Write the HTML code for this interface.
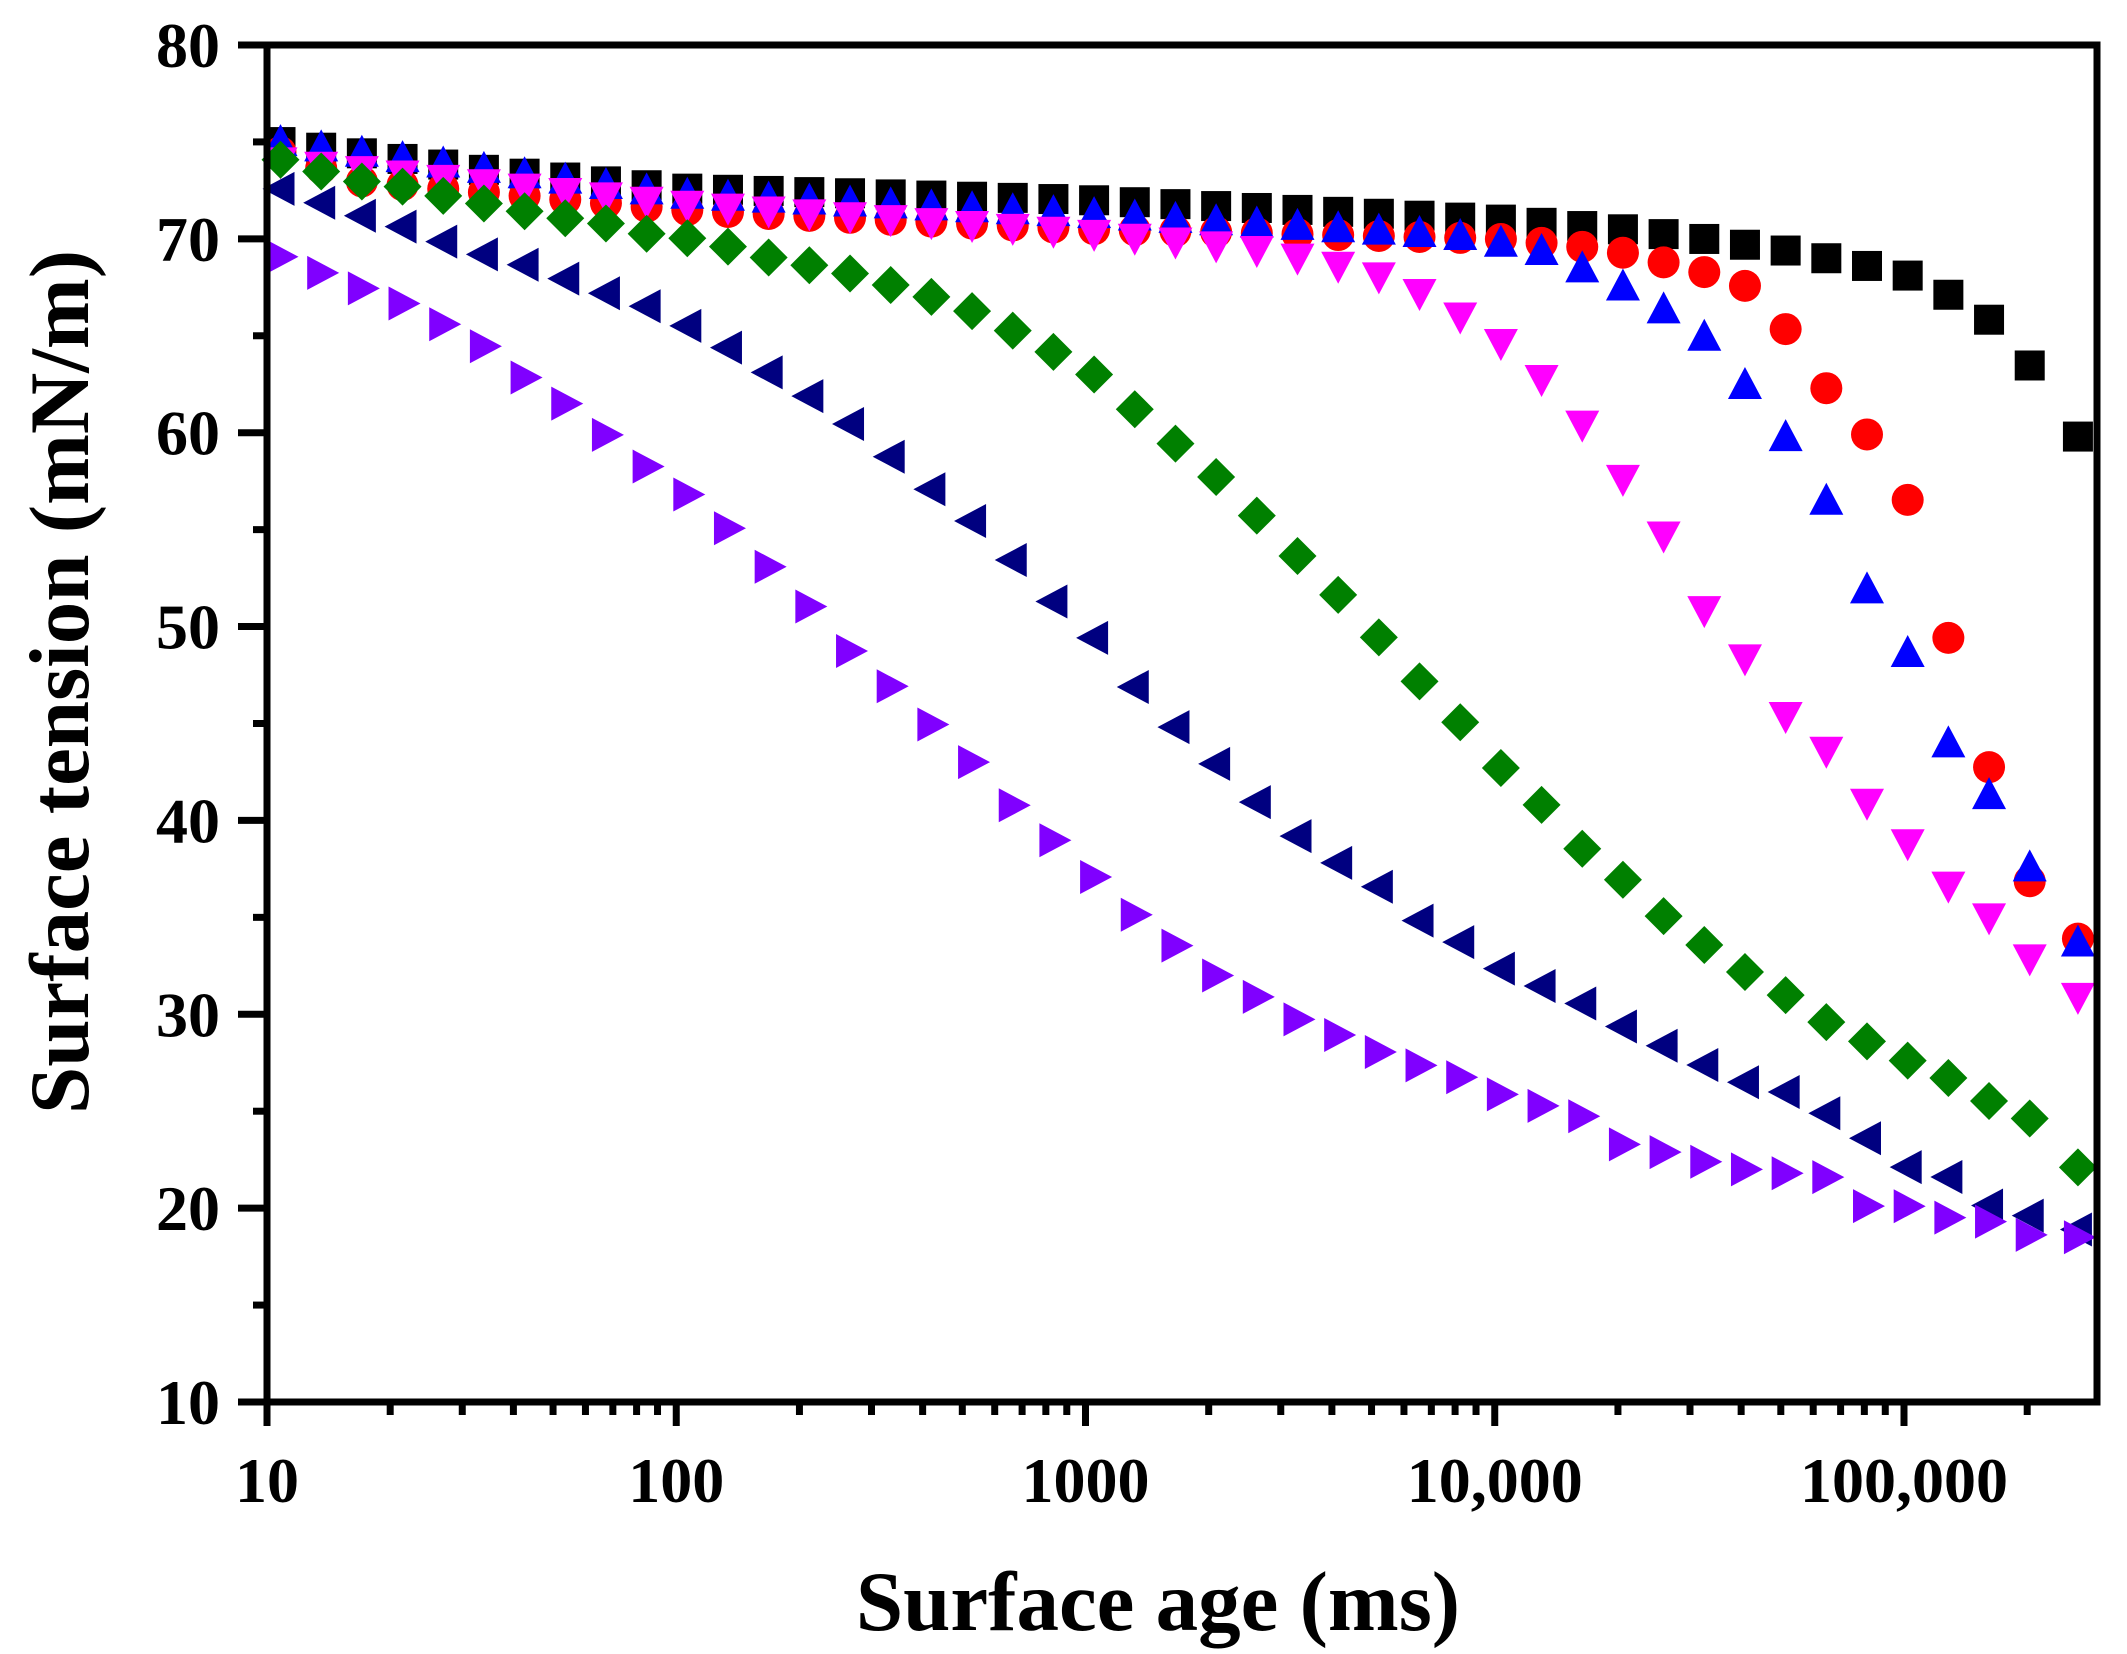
<!DOCTYPE html>
<html><head><meta charset="utf-8"><style>
html,body{margin:0;padding:0;background:#fff;}
svg{display:block;}
text{font-family:"Liberation Serif",serif;font-weight:bold;fill:#000;}
</style></head><body>
<svg id="s" width="2127" height="1654" xmlns="http://www.w3.org/2000/svg"></svg>
<script>
const NS="http://www.w3.org/2000/svg";
const s=document.getElementById('s');
function el(t,a,txt){const e=document.createElementNS(NS,t);for(const k in a)e.setAttribute(k,a[k]);if(txt!==undefined)e.textContent=txt;s.appendChild(e);return e;}
const L=267,R=2097,T=45,B=1402,DEC=409.25;
const X=lx=>L+(lx-1)*DEC, Y=v=>B-(v-10)*19.386;
function interp(an,x){for(let i=0;i<an.length-1;i++){if(x<=an[i+1][0]){const [a,va]=an[i],[b,vb]=an[i+1];return va+(vb-va)*(x-a)/(b-a);}}return an[an.length-1][1];}
const series=[
 {c:"#000000",m:"sq",a:[[1.03,75],[1.5,73.6],[2,72.6],[3,72],[4,71],[4.3,70.5],[4.5,70],[4.7,69.4],[4.8,69],[4.9,68.6],[5,68.1],[5.1,67.1],[5.2,65.8],[5.3,63.4],[5.415,59.8]]},
 {c:"#ff0000",m:"ci",a:[[1.03,74.5],[1.2,73],[2,71.5],[3,70.5],[4,70],[4.2,69.6],[4.3,69.3],[4.4,68.8],[4.5,68.3],[4.6,67.6],[4.65,66.7],[4.71,65.1],[4.8,62.3],[4.9,59.9],[5,56.5],[5.1,49.3],[5.2,42.6],[5.3,36.7],[5.415,33.9]]},
 {c:"#0000ff",m:"up",fixed:1,a:[[1.03,75],[2,72.3],[3,71.3],[3.9,70.2],[4.1,69.5],[4.2,68.6],[4.3,67.7],[4.41,66.4],[4.51,65],[4.61,62.5],[4.71,59.8],[4.81,56.5],[4.91,51.9],[5.01,48.6],[5.11,43.9],[5.2,41.6],[5.32,37.1],[5.425,33.7]]},
 {c:"#ff00ff",m:"dn",fixed:1,a:[[1.03,74],[2,71.8],[3,70.3],[3.4,69.5],[3.6,68.7],[3.7,68.2],[3.8,67.4],[3.9,66.2],[4.0,64.9],[4.1,63.1],[4.2,60.8],[4.3,58],[4.41,54.8],[4.51,50.9],[4.61,48.4],[4.71,45.4],[4.81,43.6],[4.91,40.9],[5.01,38.8],[5.11,36.6],[5.22,34.8],[5.32,32.6],[5.425,30.9]]},
 {c:"#008000",m:"di",a:[[1.03,74.1],[1.2,73],[1.3,72.8],[1.4,72.3],[1.5,71.9],[1.6,71.5],[1.7,71.1],[1.8,70.9],[1.9,70.3],[2,70.1],[2.1,69.7],[2.2,69.1],[2.3,68.7],[2.4,68.3],[2.5,67.7],[2.6,67.1],[2.7,66.4],[2.8,65.4],[2.9,64.3],[3,63.2],[3.1,61.4],[3.2,59.6],[3.3,57.9],[3.4,55.9],[3.5,53.8],[3.6,51.8],[3.7,49.6],[3.8,47.3],[3.9,45.2],[4,42.8],[4.1,40.9],[4.2,38.6],[4.3,37],[4.4,35.1],[4.5,33.6],[4.6,32.2],[4.7,31],[4.8,29.6],[4.9,28.6],[5,27.6],[5.1,26.7],[5.2,25.5],[5.3,24.6],[5.415,22.1]]},
 {c:"#000080",m:"lt",a:[[1.03,72.6],[1.2,71.3],[1.3,70.8],[1.4,70],[1.5,69.3],[1.6,68.8],[1.7,68.1],[1.8,67.3],[1.9,66.7],[2,65.7],[2.1,64.6],[2.2,63.3],[2.3,62.1],[2.4,60.7],[2.5,59],[2.6,57.3],[2.7,55.7],[2.8,53.7],[2.9,51.5],[3,49.7],[3.1,47.1],[3.2,45],[3.3,43.1],[3.4,41.1],[3.5,39.3],[3.6,37.9],[3.7,36.7],[3.8,34.9],[3.9,33.8],[4,32.4],[4.1,31.5],[4.2,30.6],[4.3,29.4],[4.4,28.4],[4.5,27.4],[4.6,26.5],[4.7,26],[4.8,24.9],[4.9,23.6],[5,22.1],[5.1,21.6],[5.2,20.1],[5.3,19.6],[5.415,18.9]]},
 {c:"#8000ff",m:"rt",a:[[1.03,69.1],[1.2,67.6],[1.3,66.9],[1.4,65.8],[1.5,64.8],[1.6,63.1],[1.7,61.8],[1.8,60.2],[1.9,58.5],[2,57.1],[2.1,55.4],[2.2,53.4],[2.3,51.4],[2.4,49],[2.5,47.2],[2.6,45.2],[2.7,43.3],[2.8,41],[2.9,39.2],[3,37.3],[3.1,35.3],[3.2,33.7],[3.3,32.1],[3.4,31],[3.5,29.8],[3.6,29],[3.7,28.1],[3.8,27.4],[3.9,26.8],[4,25.9],[4.1,25.3],[4.2,24.8],[4.3,23.3],[4.4,22.9],[4.5,22.4],[4.6,22],[4.7,21.8],[4.8,21.6],[4.9,20.1],[5,20.1],[5.1,19.5],[5.2,19.3],[5.3,18.6],[5.415,18.5]]}
];
for(const sr of series){if(sr.fixed)continue;for(let i=1;i<sr.a.length;i++)sr.a[i][0]+=0.01;}
const h=16;
function marker(m,x,y,c){
 let p;
 if(m=="sq"){el('rect',{x:x-h+1,y:y-h+1,width:2*h-2,height:2*h-2,fill:c});return;}
 if(m=="ci"){el('circle',{cx:x,cy:y,r:h,fill:c});return;}
 if(m=="up")p=[[x,y-h-2],[x+h+1,y+h-2],[x-h-1,y+h-2]];
 if(m=="dn")p=[[x,y+h+2],[x+h+1,y-h+2],[x-h-1,y-h+2]];
 if(m=="lt")p=[[x-h-2,y],[x+h-2,y-h-1],[x+h-2,y+h+1]];
 if(m=="rt")p=[[x+h+2,y],[x-h+2,y-h-1],[x-h+2,y+h+1]];
 if(m=="di")p=[[x,y-h-3],[x+h+3,y],[x,y+h+3],[x-h-3,y]];
 el('polygon',{points:p.map(q=>q.join(',')).join(' '),fill:c});
}
for(const sr of series){
 for(let k=0;k<=44;k++){let lx=(k==44)?5.425:1.033+0.0994*k;marker(sr.m,X(lx),Y(interp(sr.a,lx)),sr.c);}
}
el('rect',{x:L,y:T,width:R-L,height:B-T,fill:"none",stroke:"#000","stroke-width":7});
for(let d=1;d<=5;d++){
 for(let m=1;m<10;m++){const lx=d+Math.log10(m);const x=X(lx);if(x>R)break;
  el('line',{x1:x,y1:B,x2:x,y2:B+(m==1?24:13),stroke:"#000","stroke-width":7});}
}
const xl=[["10",1],["100",2],["1000",3],["10,000",4],["100,000",5]];
for(const [t,d] of xl) el('text',{x:X(d),y:1502,"font-size":64,"text-anchor":"middle"},t);
for(let v=10;v<=80;v+=5){const y=Y(v);el('line',{x1:L,y1:y,x2:L-(v%10==0?29:14),y2:y,stroke:"#000","stroke-width":7});
 if(v%10==0)el('text',{x:220,y:y+22,"font-size":64,"text-anchor":"end"},String(v));}
el('text',{x:1158,y:1630,"font-size":85,"text-anchor":"middle"},"Surface age (ms)");
el('text',{x:0,y:0,"font-size":85,"text-anchor":"middle",transform:"translate(88,682) rotate(-90)"},"Surface tension (mN/m)");
</script>
</body></html>
